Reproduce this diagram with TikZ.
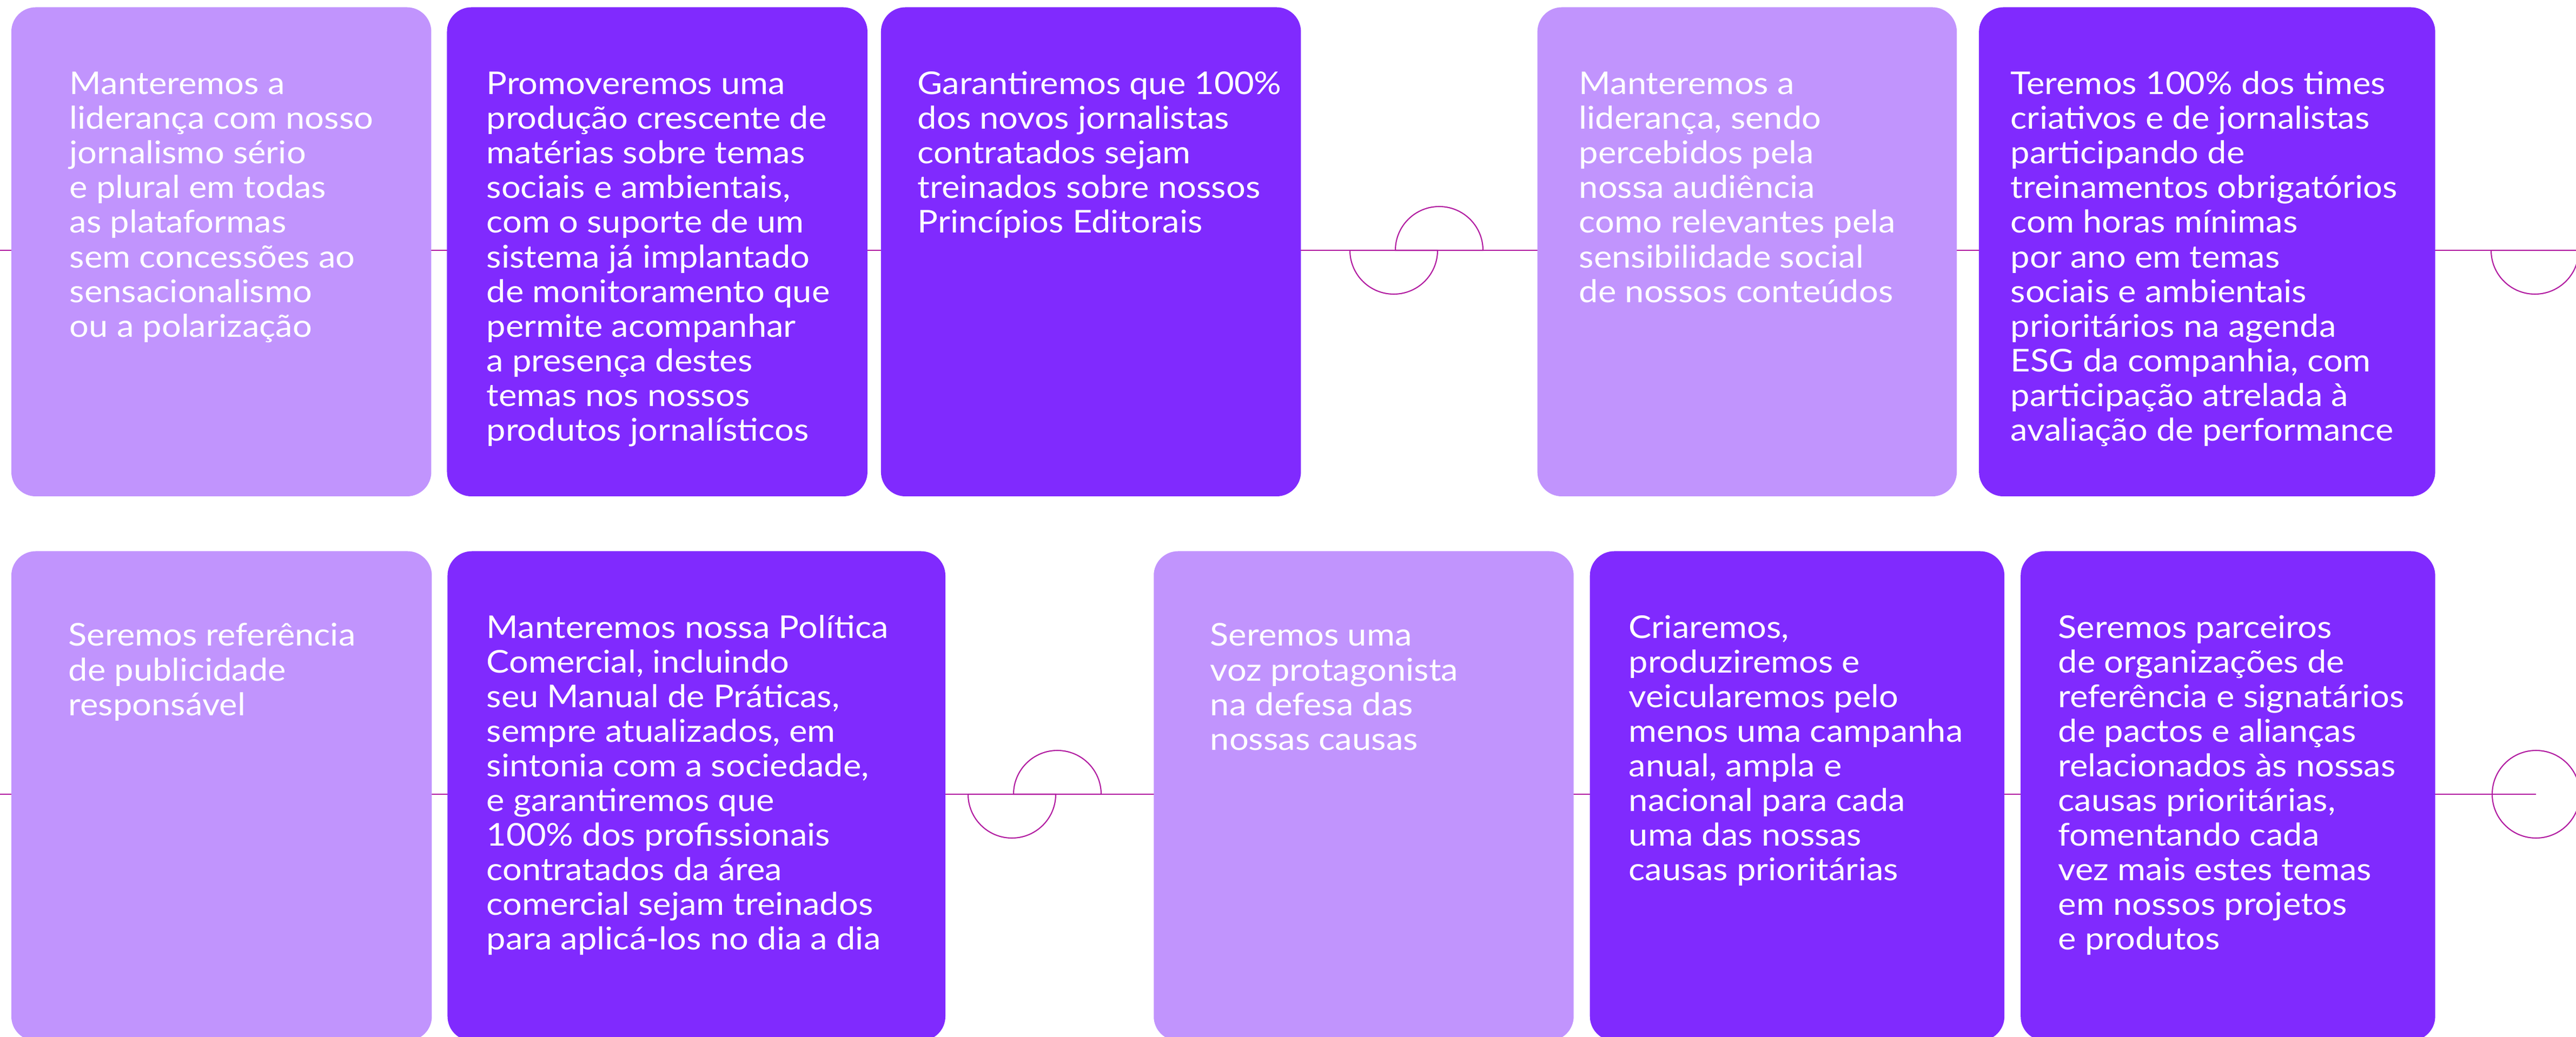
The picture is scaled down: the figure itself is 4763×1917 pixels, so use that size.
\documentclass[tikz,border=0pt]{standalone}
\usepackage{fontspec}
\setmainfont{Lato}[FakeStretch=1.09]
\usetikzlibrary{positioning}
\usepackage{xcolor}
\definecolor{lilac}{HTML}{C194FD}
\definecolor{violetgoal}{HTML}{802AFE}
\definecolor{trackmagenta}{HTML}{B11AA0}
\newcommand{\goallines}[1]{\parbox[t]{9cm}{\raggedright #1}}

\begin{document}
\begin{tikzpicture}[
            x=0.01cm, y=0.01cm,
            goal/.style={rectangle, rounded corners=0.45cm, inner sep=0pt, outer sep=0pt, minimum height=9.04cm},
            lightgoal/.style={goal, fill=lilac},
            darkgoal/.style={goal, fill=violetgoal},
            goaltxt/.style={anchor=base west, inner sep=0pt, text=white, font=\fontsize{16.5pt}{18.2pt}\selectfont},
            track/.style={draw=trackmagenta, line width=0.45pt},
            knot/.style={draw=trackmagenta, line width=0.6pt}
        ]
        \useasboundingbox (0,0) rectangle (4763,1917);

        % Track lines
        \coordinate (t1w) at (0,1454);
        \coordinate (t1e) at (4763,1454);
        \coordinate (t2w) at (0,448);
        \coordinate (t2e) at (4689,448);
        \draw[track] (t1w) -- (t1e);
        \draw[track] (t2w) -- (t2e);

        % Row 1
        \node[lightgoal, minimum width=7.76cm, anchor=south west] (a1) at (21,999) {};
        \node[darkgoal, minimum width=7.77cm, right=0.29cm of a1] (a2) {};
        \node[darkgoal, minimum width=7.76cm, right=0.25cm of a2] (a3) {};
        \node[lightgoal, minimum width=7.75cm, right=4.37cm of a3] (a4) {};
        \node[darkgoal, minimum width=8.43cm, right=0.41cm of a4] (a5) {};

        % Row 2
        \node[lightgoal, minimum width=7.77cm, minimum height=9.05cm, anchor=south west] (b1) at (21,-8) {};
        \node[darkgoal, minimum width=9.20cm, minimum height=9.05cm, right=0.29cm of b1] (b2) {};
        \node[lightgoal, minimum width=7.76cm, minimum height=9.05cm, right=3.85cm of b2] (b3) {};
        \node[darkgoal, minimum width=7.66cm, minimum height=9.05cm, right=0.30cm of b3] (b4) {};
        \node[darkgoal, minimum width=7.66cm, minimum height=9.05cm, right=0.30cm of b4] (b5) {};

        % Texts row 1
        \node[goaltxt] (a1t) at (128,1742) {\goallines{Manteremos a\\liderança com nosso\\jornalismo sério\\e plural em todas\\as plataformas\\sem concessões ao\\sensacionalismo\\ou a polarização}};
        \node[goaltxt] (a2t) at (899,1742) {\goallines{Promoveremos uma\\produção crescente de\\matérias sobre temas\\sociais e ambientais,\\com o suporte de um\\sistema já implantado\\de monitoramento que\\permite acompanhar\\a presença destes\\temas nos nossos\\produtos jornalísticos}};
        \node[goaltxt] (a3t) at (1696,1742) {\goallines{Garantiremos que 100\%\\dos novos jornalistas\\contratados sejam\\treinados sobre nossos\\Princípios Editorais}};
        \node[goaltxt] (a4t) at (2919,1742) {\goallines{Manteremos a\\liderança, sendo\\percebidos pela\\nossa audiência\\como relevantes pela\\sensibilidade social\\de nossos conteúdos}};
        \node[goaltxt] (a5t) at (3717,1742) {\goallines{Teremos 100\% dos times\\criativos e de jornalistas\\participando de\\treinamentos obrigatórios\\com horas mínimas\\por ano em temas\\sociais e ambientais\\prioritários na agenda\\ESG da companhia, com\\participação atrelada à\\avaliação de performance}};

        % Texts row 2
        \node[goaltxt] (b1t) at (126,722) {\goallines{Seremos referência\\de publicidade\\responsável}};
        \node[goaltxt] (b2t) at (899,737) {\goallines{Manteremos nossa Política\\Comercial, incluindo\\seu Manual de Práticas,\\sempre atualizados, em\\sintonia com a sociedade,\\e garantiremos que\\100\% dos profissionais\\contratados da área\\comercial sejam treinados\\para aplicá-los no dia a dia}};
        \node[goaltxt] (b3t) at (2237,722) {\goallines{Seremos uma\\voz protagonista\\na defesa das\\nossas causas}};
        \node[goaltxt] (b4t) at (3011,737) {\goallines{Criaremos,\\produziremos e\\veicularemos pelo\\menos uma campanha\\anual, ampla e\\nacional para cada\\uma das nossas\\causas prioritárias}};
        \node[goaltxt] (b5t) at (3805,737) {\goallines{Seremos parceiros\\de organizações de\\referência e signatários\\de pactos e alianças\\relacionados às nossas\\causas prioritárias,\\fomentando cada\\vez mais estes temas\\em nossos projetos\\e produtos}};

        % Half circles on the track
        \coordinate (k1a) at (2496,1454);
        \coordinate (k1b) at (2580,1454);
        \coordinate (k1c) at (4606,1454);
        \coordinate (k2a) at (1790,448);
        \coordinate (k2b) at (1874,448);
        \draw[knot] (k1a) arc[start angle=180, end angle=360, radius=81] -- cycle;
        \draw[knot] (k1b) arc[start angle=180, end angle=0, radius=81] -- cycle;
        \draw[knot] (k1c) arc[start angle=180, end angle=360, radius=81] -- cycle;
        \draw[knot] (k2a) arc[start angle=180, end angle=360, radius=81] -- cycle;
        \draw[knot] (k2b) arc[start angle=180, end angle=0, radius=81] -- cycle;
        \draw[knot] (t2e) circle[radius=81];

        \end{tikzpicture}
\end{document}
